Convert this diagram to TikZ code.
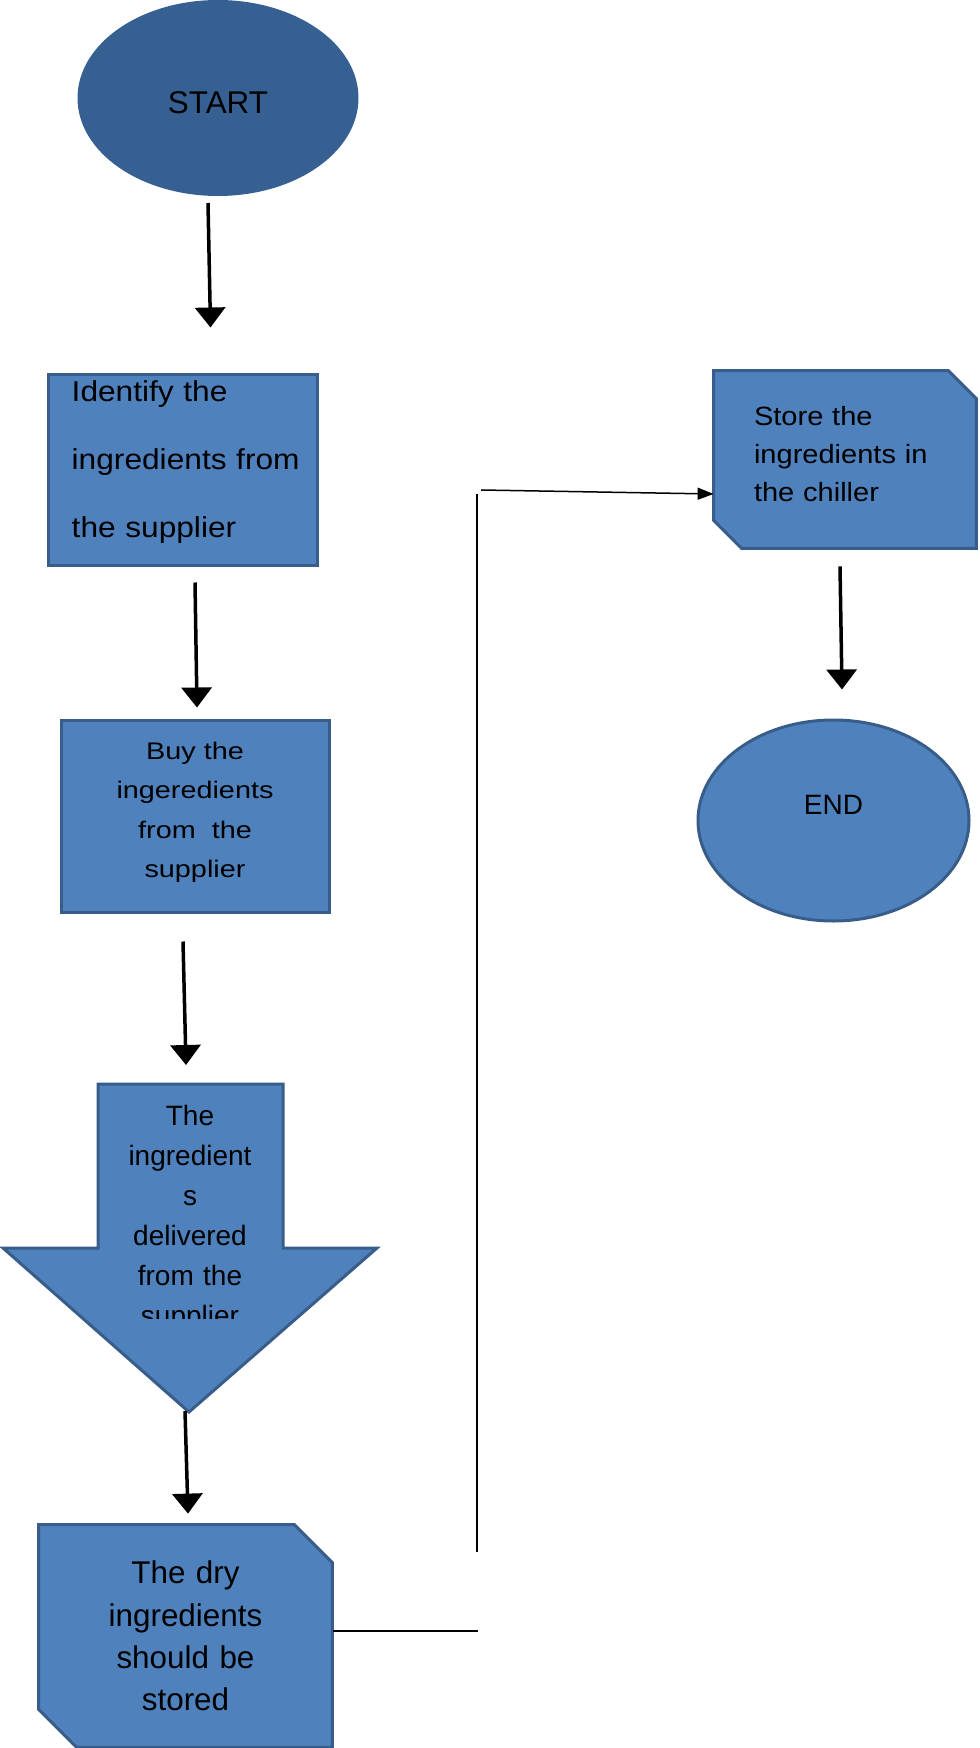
\documentclass[tikz,border=0pt]{standalone}
\usepackage{fontspec}
\setmainfont{Liberation Sans}
\newfontfamily\widefont{Liberation Sans}[FakeStretch=1.1]
\newfontfamily\widerfont{Liberation Sans}[FakeStretch=1.2]
\usetikzlibrary{arrows.meta,shapes.geometric,calc,backgrounds}
\definecolor{boxblue}{HTML}{4F81BD}
\definecolor{boxline}{HTML}{385D8A}
\definecolor{startblue}{HTML}{376092}

\begin{document}
\begin{tikzpicture}[x=0.5pt,y=-0.5pt,
 term/.style={ellipse,draw=boxline,line width=1.5pt,fill=boxblue,inner sep=0pt},
 procbox/.style={rectangle,draw=boxline,line width=1.5pt,fill=boxblue,inner sep=0pt},
 snipbox/.style={rectangle,inner sep=0pt},
 snip/.style={draw=boxline,line width=1.5pt,fill=boxblue},
 flow/.style={line width=1.75pt,-{Triangle[width=15pt,length=10pt]}},
 link/.style={line width=0.75pt}]
\useasboundingbox (0,0) rectangle (979,1748);
\node[term,draw=startblue,fill=startblue,minimum width=139pt,minimum height=96.5pt,
 font=\fontsize{15.7}{19}\selectfont,text height=15.2pt,text depth=0pt] (start) at (218,98) {START};
\node[procbox,minimum width=134.5pt,minimum height=95pt,text width=110.8pt,align=left,
 font=\widefont\fontsize{14.4}{34}\selectfont,text height=10pt,text depth=78pt]
 (ident) at (182.5,470) {Identify~the\\ingredients~from\\the~supplier};
\node[procbox,minimum width=134pt,minimum height=96pt,text width=100pt,align=center,
 font=\widerfont\fontsize{12}{19.75}\selectfont,text height=10pt,text depth=67pt]
 (buy) at (195,816) {Buy the\\ingeredients\\from~ the\\supplier};
% delivery block arrow
\coordinate (dtop) at (190,1084);
\coordinate (dtip) at (189,1412);
\draw[snip] (98,1084) -- (283,1084) -- (283,1248) -- (377,1248) -- (dtip) -- (3,1248) -- (98,1248) -- cycle;
\begin{scope}
\clip (0,1084) rectangle (979,1318);
\node[inner sep=0pt,anchor=north,text width=90pt,align=center,
 font=\fontsize{14}{20}\selectfont] (deliv) at (190,1105) {The\\ingredient\\s\\delivered\\from the\\supplier};
\end{scope}
\node[snipbox,minimum width=146.5pt,minimum height=111pt,text width=120pt,align=center,
 font=\fontsize{15.7}{21.15}\selectfont] (dry) at (185.5,1636) {The dry\\ingredients\\should be\\stored};
\node[snipbox,minimum width=131pt,minimum height=88.5pt,text width=91pt,align=left,
 font=\widefont\fontsize{13.2}{19}\selectfont,text height=10pt,text depth=43.5pt]
 (store) at (845,459.5) {Store the\\ingredients in\\the chiller};
\node[term,minimum width=135.5pt,minimum height=100.5pt,font=\fontsize{14}{17}\selectfont,
 text height=10pt,text depth=16pt] (end) at (833.5,820.5) {END};
\begin{scope}[on background layer]
\draw[snip] (dry.north west) -- ([xshift=-19pt]dry.north east) -- ([yshift=-19pt]dry.north east)
 -- (dry.south east) -- ([xshift=19pt]dry.south west) -- ([yshift=19pt]dry.south west) -- cycle;
\draw[snip] (store.north west) -- ([xshift=-14pt]store.north east) -- ([yshift=-14pt]store.north east)
 -- (store.south east) -- ([xshift=14pt]store.south west) -- ([yshift=14pt]store.south west) -- cycle;
\end{scope}
\draw[flow] ($(start.south)+(-10,7)$) -- ($(ident.north)+(28,-46)$);
\draw[flow] ($(ident.south)+(12.5,16)$) -- ($(buy.north)+(2,-11)$);
\draw[flow] ($(buy.south)+(-12,28)$) -- ($(dtop)+(-4,-19)$);
\draw[flow] ($(dtip)+(-4,-1)$) -- ($(dry.north)+(2.5,-11)$);
\draw[flow] ($(store.south)+(-5,18)$) -- ($(end.north)+(8.5,-29)$);
% dry -> chiller
\coordinate (c1) at (478,1631);
\coordinate (c2) at (477,1552);
\coordinate (c3) at (477,494);
\coordinate (c4) at (481,490);
\draw[link] ($(dry.east)+(1,-5)$) -- (c1);
\draw[link] (c2) -- (c3);
\draw[link,-{Triangle[width=6pt,length=8pt]}] (c4) -- ($(store.west)+(0,34.5)$);
\end{tikzpicture}
\end{document}
